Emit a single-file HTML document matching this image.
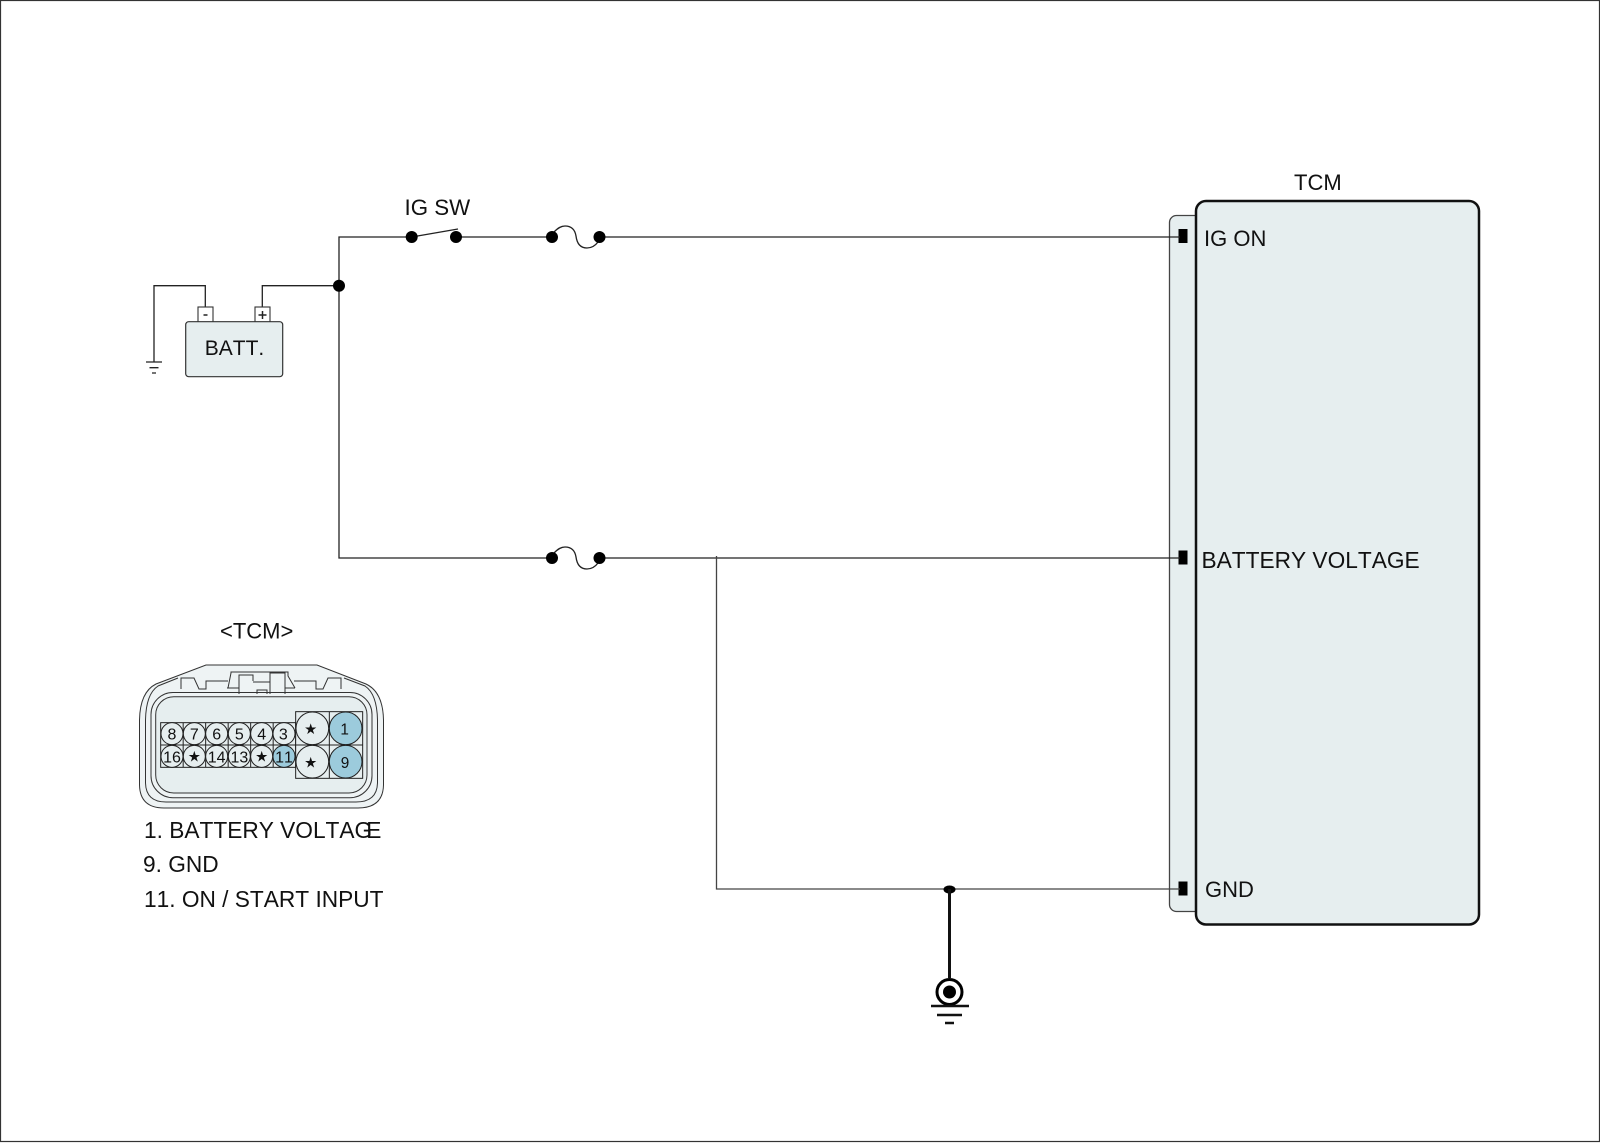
<!DOCTYPE html>
<html><head><meta charset="utf-8"><style>
html,body{margin:0;padding:0;background:#fff;width:1600px;height:1143px;overflow:hidden}
svg{display:block}
text{font-family:"Liberation Sans",sans-serif;fill:#111;font-kerning:none}
</style></head><body>
<svg width="1600" height="1143" viewBox="0 0 1600 1143" xmlns="http://www.w3.org/2000/svg">
<rect x="0.5" y="0.5" width="1599" height="1141" fill="#fff" stroke="#333" stroke-width="1.2"/>

<!-- TCM module -->
<rect x="1169.5" y="215.5" width="40" height="696" rx="7" fill="#e6eeef" stroke="#444" stroke-width="1.3"/>
<rect x="1196" y="201" width="283" height="723.5" rx="10" fill="#e6eeef" stroke="#111" stroke-width="2.5"/>
<rect x="1178.5" y="229" width="9" height="14" fill="#000"/>
<rect x="1178.5" y="550.500" width="9" height="14" fill="#000"/>
<rect x="1178.5" y="881.500" width="9" height="14" fill="#000"/>
<text x="1294" y="190" font-size="22">TCM</text>
<text x="1204" y="246" font-size="22">IG ON</text>
<text x="1201.500" y="568" font-size="22.700">BATTERY VOLTAGE</text>
<text x="1205" y="897" font-size="22">GND</text>

<!-- wires -->
<g fill="none" stroke="#222" stroke-width="1.3">
<path d="M339,285.7 V237 H411"/>
<path d="M456,237 H552"/>
<path d="M599,237 H1180"/>
<path d="M339,285.7 V558 H552"/>
<path d="M599,558 H1180"/>
<path d="M716.5,556 V889 H1180" stroke="#444"/>
<path d="M339,285.7 H262.3 V307"/>
<path d="M205.3,307 V285.7 H154 V362"/>
<path d="M411.7,237 L458,229"/>
<path d="M554,232 C558,228 561,226 565,226 C572,226 575,230 576,236 C577,244 581,248 587,248 C591,248 595,246 598,242"/>
<path d="M554,553 C558,549 561,547 565,547 C572,547 575,551 576,557 C577,565 581,569 587,569 C591,569 595,567 598,563"/>
<path d="M146,362 H162 M149.500,367.700 H158.500 M152,373 H156"/>
</g>
<g fill="#000">
<circle cx="339" cy="285.700" r="6"/>
<circle cx="411.700" cy="237" r="6"/>
<circle cx="456" cy="237" r="6"/>
<circle cx="552" cy="237" r="6"/>
<circle cx="599.500" cy="237" r="6"/>
<circle cx="552" cy="558" r="6"/>
<circle cx="599.500" cy="558" r="6"/>
<ellipse cx="949.500" cy="889.500" rx="6" ry="4"/>
</g>

<!-- battery -->
<rect x="198" y="307" width="15" height="15" fill="#fff" stroke="#333" stroke-width="1.1"/>
<rect x="255" y="307" width="15" height="15" fill="#fff" stroke="#333" stroke-width="1.1"/>
<rect x="185.700" y="321.700" width="97" height="55" rx="3" fill="#e6eeef" stroke="#333" stroke-width="1.2"/>
<path d="M203.500,315 H207.500 M258.500,315 H266.500 M262.500,311 V319" stroke="#222" stroke-width="1.5" fill="none"/>
<text x="234.500" y="355" font-size="21" text-anchor="middle">BATT.</text>
<text x="404.500" y="215" font-size="22.300">IG SW</text>

<!-- ground -->
<path d="M949.500,889 V978" stroke="#111" stroke-width="3" fill="none"/>
<circle cx="949.500" cy="992" r="12.500" fill="#fff" stroke="#000" stroke-width="3"/>
<circle cx="949.500" cy="992" r="6.500" fill="#000"/>
<path d="M931,1006 H969 M937,1015 H962 M945,1023 H954" stroke="#111" stroke-width="2.4" fill="none"/>

<!-- connector body -->
<g fill="none" stroke="#333" stroke-width="1">
<path d="M206,665 H317 L366,684 Q383,692 383.500,720 V785 Q383,808 358,808 H164 Q140,808 139.500,785 V720 Q140,692 156,684 Z" fill="#eef3f4"/>
<path d="M178,678 L158,686 Q146,694 145.500,720 V783 Q146,802 166,802 H356 Q377,802 377.500,783 V720 Q377,694 365,686 L344,678"/>
<rect x="151" y="692.500" width="221" height="105.200" rx="22"/>
<rect x="155.700" y="696.700" width="211.300" height="96.300" rx="18" fill="#e6eeef"/>
<path d="M181,689 V678 H194 L199,689 H206 V681 H228 M228,688 L231,673 V672 H288 V676 L295,688 M294,681 H316 V689 H323 L328,678 H341 V689"/>
<path d="M239,694 V675 H253 V681 M270,694 V673 H285 V694 M227,688 H239 M285,688 H295 M253,682 H270 M257,694 V690 H267 V694"/>
</g>

<!-- connector: coordinates in 3x space -->
<g transform="translate(120,610) scale(0.33333)" stroke="#222" stroke-width="3">
<text x="410" y="85" font-size="66" text-anchor="middle" stroke="none">&lt;TCM&gt;</text>

<!-- small grid -->
<rect x="122" y="338" width="405" height="134" fill="#e6eeef"/>
<path d="M189.500,338 V472 M257,338 V472 M324.500,338 V472 M392,338 V472 M459.500,338 V472 M122,405 H527" fill="none"/>
<g fill="#e6eeef">
<circle cx="156" cy="371" r="33"/><circle cx="223" cy="371" r="33"/><circle cx="290" cy="371" r="33"/><circle cx="358" cy="371" r="33"/><circle cx="425" cy="371" r="33"/><circle cx="492" cy="371" r="33"/>
<circle cx="156" cy="439" r="33"/><circle cx="223" cy="439" r="33"/><circle cx="290" cy="439" r="33"/><circle cx="358" cy="439" r="33"/><circle cx="425" cy="439" r="33"/>
<circle cx="492" cy="439" r="33" fill="#9ccbdc"/>
</g>
<!-- large grid -->
<rect x="527" y="305" width="201" height="200" fill="#e6eeef"/>
<path d="M628,305 V505 M527,405 H728" fill="none"/>
<circle cx="577" cy="355" r="49" fill="#e6eeef"/>
<circle cx="677" cy="355" r="49" fill="#9ccbdc"/>
<circle cx="577" cy="455" r="49" fill="#e6eeef"/>
<circle cx="677" cy="455" r="49" fill="#9ccbdc"/>

<g font-size="48" text-anchor="middle" stroke="none">
<text x="156" y="389">8</text><text x="223" y="389">7</text><text x="290" y="389">6</text><text x="358" y="389">5</text><text x="425" y="389">4</text><text x="490" y="389">3</text>
<text x="156" y="457">16</text><text x="290" y="457">14</text><text x="358" y="457">13</text><text x="492" y="457">11</text>
</g>
<g font-size="46" text-anchor="middle" stroke="none">
<text x="674" y="374">1</text><text x="675" y="474">9</text>
</g>
<g text-anchor="middle" stroke="none">
<text style="font-family:'DejaVu Sans',sans-serif" x="223" y="454" font-size="44">★</text>
<text style="font-family:'DejaVu Sans',sans-serif" x="425" y="454" font-size="44">★</text>
<text style="font-family:'DejaVu Sans',sans-serif" x="572" y="372" font-size="44">★</text>
<text style="font-family:'DejaVu Sans',sans-serif" x="572" y="472" font-size="44">★</text>
</g>
</g>

<!-- legend -->
<text x="144" y="838" font-size="22.700">1. BATTERY VOLTAG<tspan dx="-6">E</tspan></text>
<text x="143" y="872" font-size="22.700">9. GND</text>
<text x="144" y="907" font-size="22.700">11. ON / START INPUT</text>
</svg>
</body></html>
